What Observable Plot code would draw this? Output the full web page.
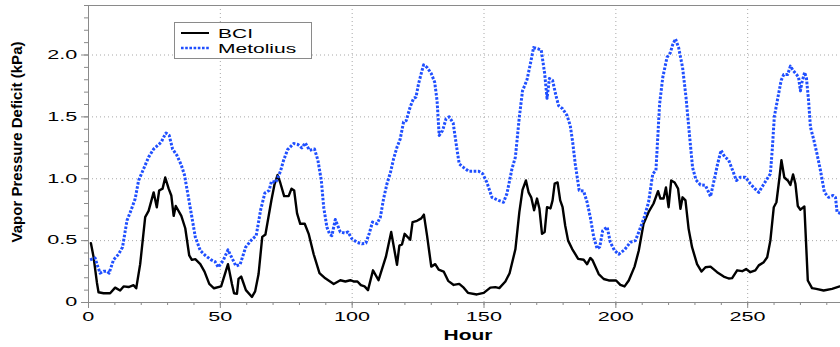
<!DOCTYPE html>
<html>
<head>
<meta charset="utf-8">
<script src="https://cdn.jsdelivr.net/npm/d3@7"></script>
<script src="https://cdn.jsdelivr.net/npm/@observablehq/plot@0.6"></script>
<style>
  html, body { margin: 0; padding: 0; background: #fff; }
  #chart svg { display: block; }
</style>
</head>
<body>
<div id="chart"></div>
<script>
// Hourly vapor pressure deficit (kPa) at two sites
const bciHour = [0.9,1.9,3.2,3.8,5.7,8.2,10.1,12.0,13.3,15.2,17.1,18.1,19.6,21.5,22.8,24.7,25.9,26.8,28.1,29.1,30.4,31.4,32.3,33.1,35.2,36.7,38.2,39.2,40.5,42.4,44.0,45.8,47.6,50.3,52.9,54.4,55.2,56.3,56.9,57.9,59.7,62.0,63.2,64.5,65.9,67.1,69.4,70.5,71.7,72.7,74.2,75.9,77.0,78.0,79.1,80.3,82.0,83.5,85.4,87.6,89.8,93.0,95.5,97.4,99.3,100.5,102.0,103.3,104.7,106.0,107.9,110.0,112.8,114.8,117.0,117.9,118.9,119.9,122.0,122.9,124.6,126.2,127.2,128.4,130.0,131.5,132.8,134.7,136.4,138.5,140.6,142.3,143.9,147.3,149.9,152.4,154.3,155.8,158.1,159.7,161.9,163.4,164.6,165.9,166.9,167.9,169.0,170.1,171.0,172.0,173.0,173.9,175.2,176.0,176.8,177.9,178.9,179.8,180.8,181.9,183.4,185.7,187.8,189.1,190.3,191.2,193.5,195.4,197.3,200.1,201.7,203.3,204.9,207.1,208.7,210.5,212.4,214.3,216.0,216.9,218.1,219.0,220.0,221.0,222.3,223.6,224.5,225.3,226.4,227.6,228.9,230.8,232.5,234.0,235.9,238.4,240.9,242.8,244.1,246.0,247.9,249.4,251.0,252.9,254.2,256.1,257.4,258.6,259.9,260.9,262.0,262.8,263.9,265.2,266.2,267.2,268.1,269.0,270.0,271.5,272.8,274.4,276.0,278.8,282.0,284.9];
const bciVpd = [0.48,0.37,0.16,0.083,0.075,0.075,0.12,0.097,0.13,0.125,0.14,0.115,0.31,0.69,0.74,0.89,0.77,0.905,0.92,1.01,0.92,0.865,0.70,0.78,0.70,0.60,0.38,0.345,0.35,0.31,0.25,0.15,0.115,0.13,0.31,0.15,0.075,0.07,0.19,0.21,0.10,0.045,0.09,0.23,0.53,0.55,0.83,0.95,1.03,0.97,0.86,0.86,0.92,0.905,0.72,0.636,0.636,0.555,0.39,0.237,0.195,0.15,0.18,0.17,0.18,0.17,0.17,0.14,0.13,0.10,0.26,0.18,0.37,0.57,0.305,0.46,0.47,0.555,0.507,0.65,0.66,0.68,0.71,0.54,0.29,0.31,0.265,0.25,0.175,0.142,0.15,0.12,0.078,0.065,0.078,0.12,0.124,0.116,0.17,0.237,0.43,0.73,0.91,0.986,0.89,0.85,0.745,0.84,0.76,0.555,0.57,0.77,0.76,0.825,0.96,0.97,0.825,0.77,0.62,0.50,0.434,0.353,0.345,0.31,0.36,0.34,0.23,0.19,0.178,0.178,0.143,0.13,0.178,0.29,0.42,0.636,0.73,0.80,0.90,0.84,0.84,0.93,0.77,0.986,0.97,0.92,0.757,0.85,0.825,0.595,0.447,0.31,0.25,0.285,0.29,0.245,0.21,0.194,0.197,0.26,0.253,0.27,0.245,0.26,0.30,0.326,0.366,0.50,0.77,0.81,1.0,1.15,1.01,0.986,0.95,1.035,0.96,0.78,0.75,0.776,0.178,0.116,0.11,0.097,0.11,0.13];

const metHour = [0.6,2.5,3.6,4.4,5.7,7.0,7.8,9.5,11.4,12.9,14.6,16.1,17.7,19.0,20.9,22.8,24.7,26.6,27.6,28.5,29.4,30.6,31.9,33.5,35.2,36.4,37.9,39.2,40.5,42.4,44.3,46.5,48.0,49.2,51.1,52.9,54.4,55.9,57.5,59.6,62.0,63.6,65.3,66.9,68.5,69.4,71.0,72.8,74.0,75.5,77.8,79.4,80.9,82.2,83.8,85.7,87.0,88.3,89.2,90.4,91.5,92.3,93.6,95.5,97.4,98.4,99.9,101.8,103.7,105.2,106.5,107.7,109.4,110.7,111.9,113.2,114.5,115.7,117.0,118.2,119.5,120.5,122.0,123.3,124.2,125.2,126.5,127.1,128.4,130.0,131.3,132.2,133.0,134.3,135.6,136.8,138.3,139.8,140.6,142.3,144.2,146.0,148.0,149.5,151.1,153.0,155.5,157.4,158.7,160.6,161.9,163.4,164.6,166.3,167.6,168.8,170.5,171.7,173.0,173.9,174.8,176.0,177.3,178.3,179.8,181.5,182.7,183.6,184.6,186.1,187.8,189.1,190.3,191.6,192.9,193.9,195.0,196.7,197.9,199.5,201.1,203.3,205.5,207.4,208.9,210.8,212.4,214.0,215.2,215.9,216.6,217.8,219.4,220.7,221.5,222.6,223.8,225.3,226.6,227.9,229.1,230.4,232.1,234.0,235.9,237.4,238.6,239.9,241.2,242.8,244.3,245.7,247.2,249.1,251.0,252.7,254.2,255.8,257.4,258.6,259.3,260.1,261.4,262.7,263.7,265.2,266.2,267.2,268.5,269.3,270.0,270.6,271.6,272.3,273.1,273.8,275.0,276.3,277.6,279.1,280.7,282.4,283.3,283.9,285.2];
const metVpd = [0.345,0.36,0.285,0.237,0.253,0.253,0.237,0.345,0.39,0.447,0.663,0.744,0.838,0.986,1.08,1.175,1.24,1.277,1.296,1.336,1.37,1.35,1.24,1.19,1.11,1.03,0.85,0.69,0.53,0.42,0.38,0.345,0.33,0.285,0.34,0.426,0.36,0.295,0.307,0.447,0.51,0.54,0.75,0.885,0.905,0.98,0.97,1.06,1.15,1.235,1.285,1.277,1.25,1.29,1.23,1.24,1.15,0.986,0.77,0.61,0.55,0.54,0.67,0.57,0.56,0.57,0.515,0.487,0.474,0.48,0.56,0.65,0.636,0.69,0.838,0.96,1.05,1.16,1.255,1.32,1.46,1.47,1.58,1.65,1.66,1.77,1.875,1.92,1.90,1.85,1.78,1.63,1.35,1.39,1.485,1.50,1.45,1.23,1.12,1.09,1.06,1.06,1.06,1.04,0.97,0.85,0.825,0.81,0.88,1.08,1.175,1.50,1.71,1.80,1.93,2.06,2.05,2.04,1.85,1.65,1.81,1.795,1.67,1.59,1.566,1.51,1.43,1.30,1.12,0.905,0.90,0.81,0.69,0.53,0.434,0.45,0.58,0.61,0.487,0.42,0.39,0.426,0.487,0.50,0.58,0.69,0.81,1.04,1.067,1.336,1.606,1.82,1.98,2.02,2.08,2.13,2.06,1.90,1.66,1.36,1.09,0.99,0.95,0.946,0.857,1.0,1.12,1.23,1.18,1.15,1.067,0.986,1.013,1.013,0.96,0.92,0.89,0.946,1.0,1.04,1.23,1.50,1.65,1.795,1.843,1.843,1.91,1.875,1.843,1.82,1.71,1.78,1.86,1.81,1.63,1.417,1.32,1.20,1.067,0.89,0.85,0.865,0.85,0.73,0.72];

const seriesNames = ["BCI", "Metolius"];
const seriesColors = ["#000000", "#1f4fff"];
const xMajorTicks = [0, 50, 100, 150, 200, 250];
const yMajorTicks = [0, 0.5, 1.0, 1.5, 2.0];
const xTitle = "Hour";
const yTitle = "Vapor Pressure Deficit (kPa)";

const bci = bciHour.map((h, i) => ({hour: h, vpd: bciVpd[i]}));
const metolius = metHour.map((h, i) => ({hour: h, vpd: metVpd[i]}));

const axisGray = "#8a8a8a";
const gridStyle = {stroke: "#a8a8a8", strokeOpacity: 1, strokeDasharray: "1,3"};

const chart = Plot.plot({
  width: 840,
  height: 347,
  marginLeft: 88,
  marginRight: 0,
  marginTop: 5,
  marginBottom: 45,
  style: {fontFamily: "'Liberation Sans', Arial, sans-serif", fontSize: "12px", background: "#fff", color: "#000"},
  x: {domain: [0, 285.2], label: null},
  y: {domain: [0, 2.4], label: null},
  marks: [
    Plot.gridX(xMajorTicks.filter(d => d > 0), gridStyle),
    Plot.gridY(yMajorTicks.filter(d => d > 0), gridStyle),
    // minor ticks
    Plot.axisX(d3.range(0, 290, 10), {tickSize: 3, text: null, stroke: axisGray, label: null}),
    Plot.axisY(d3.range(0, 2.41, 0.1), {tickSize: 4, text: null, stroke: axisGray, label: null}),
    // major ticks with labels
    Plot.axisX(xMajorTicks, {tickSize: 6, tickPadding: 4, stroke: axisGray, fill: "#000", label: null, tickFormat: d => String(d)}),
    Plot.axisY(yMajorTicks, {tickSize: 7, tickPadding: 4, stroke: axisGray, fill: "#000", label: null,
      tickFormat: d => d === 0 ? "0" : d.toFixed(1)}),
    // frame edges
    Plot.ruleX([0], {stroke: axisGray}),
    Plot.ruleY([0, 2.4], {stroke: axisGray}),
    Plot.line(bci, {x: "hour", y: "vpd", stroke: seriesColors[0], strokeWidth: 2.4, clip: true}),
    Plot.line(metolius, {x: "hour", y: "vpd", stroke: seriesColors[1], strokeWidth: 3,
      strokeDasharray: "2.6,1.6", strokeLinecap: "butt", clip: true})
  ]
});

document.getElementById("chart").appendChild(chart);

// Widen the numeric tick labels horizontally about their anchor point
const svg = d3.select(chart);
svg.selectAll("text")
  .filter(function () { return /^[0-9.]+$/.test(this.textContent.trim()); })
  .each(function () {
    const box = this.getBBox();
    const anchor = getComputedStyle(this).textAnchor;
    const ax = anchor === "end" ? box.x + box.width : anchor === "middle" ? box.x + box.width / 2 : box.x;
    const t = this.getAttribute("transform") || "";
    this.setAttribute("transform", `${t} translate(${ax},0) scale(1.8,1) translate(${-ax},0)`);
  });

// Axis titles
svg.append("text")
  .attr("transform", "translate(468,340) scale(1.5,1)")
  .attr("text-anchor", "middle")
  .attr("font-weight", "bold")
  .attr("font-size", 14)
  .attr("fill", "#000")
  .text(xTitle);
svg.append("text")
  .attr("transform", "translate(22,142) rotate(-90)")
  .attr("text-anchor", "middle")
  .attr("font-weight", "bold")
  .attr("font-size", 15)
  .attr("fill", "#000")
  .text(yTitle);

// Legend
const legend = svg.append("g").attr("class", "legend").attr("text-anchor", "start");
legend.append("rect")
  .attr("x", 174.5).attr("y", 22.5).attr("width", 137).attr("height", 36)
  .attr("fill", "#fff").attr("stroke", axisGray);
const rows = [
  {name: seriesNames[0], color: seriesColors[0], dash: null, width: 2, y: 33},
  {name: seriesNames[1], color: seriesColors[1], dash: "2.6,1.6", width: 2.6, y: 48}
];
rows.forEach(r => {
  legend.append("line")
    .attr("x1", 181).attr("x2", 209).attr("y1", r.y).attr("y2", r.y)
    .attr("stroke", r.color).attr("stroke-width", r.width)
    .attr("stroke-dasharray", r.dash);
  legend.append("text")
    .attr("transform", `translate(218,${r.y + 4.5}) scale(1.75,1)`)
    .attr("text-anchor", "start")
    .attr("font-size", 12)
    .attr("fill", "#000")
    .text(r.name);
});
</script>
</body>
</html>
